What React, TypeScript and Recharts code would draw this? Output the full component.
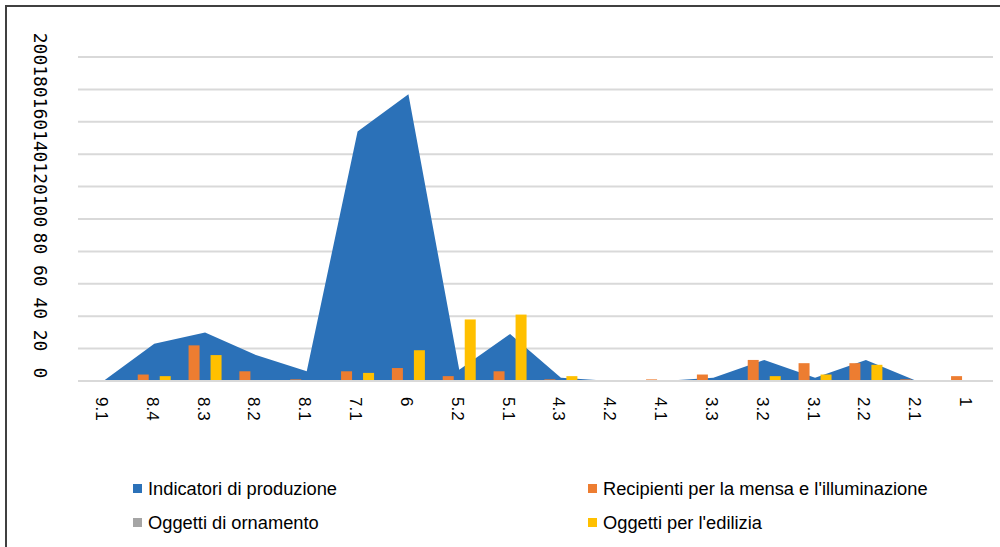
import React from "react";
import {
  ComposedChart,
  Area,
  Bar,
  XAxis,
  YAxis,
  CartesianGrid,
} from "recharts";

const categories = [
  "9.1", "8.4", "8.3", "8.2", "8.1", "7.1", "6", "5.2", "5.1",
  "4.3", "4.2", "4.1", "3.3", "3.2", "3.1", "2.2", "2.1", "1",
];

const produzione = [0, 23, 30, 16, 6, 154, 177, 7, 29, 2, 0, 0, 2, 13, 2, 13, 0, 0];
const recipienti = [0, 4, 22, 6, 1, 6, 8, 3, 6, 1, 0, 1, 4, 13, 11, 11, 1, 3];
const ornamento = [0, 0, 0, 0, 0, 0, 0, 0, 0, 0, 0, 0, 0, 0, 0, 0, 0, 0];
const edilizia = [0, 3, 16, 0, 0, 5, 19, 38, 41, 3, 0, 0, 0, 3, 4, 10, 0, 0];

const yTicks = [0, 20, 40, 60, 80, 100, 120, 140, 160, 180, 200];

const series = [
  { key: "produzione", name: "Indicatori di produzione", color: "#2B71B8" },
  { key: "recipienti", name: "Recipienti per la mensa e l'illuminazione", color: "#ED7D31" },
  { key: "ornamento", name: "Oggetti di ornamento", color: "#A5A5A5" },
  { key: "edilizia", name: "Oggetti per l'edilizia", color: "#FFC000" },
];

const data = categories.map((c, i) => ({
  cat: c,
  produzione: produzione[i],
  recipienti: recipienti[i],
  ornamento: ornamento[i],
  edilizia: edilizia[i],
}));

const XTick = (props: any) => {
  const { x, y, payload } = props;
  return (
    <text
      transform={`translate(${x - 2},${y + 8}) rotate(90)`}
      textAnchor="start"
      dominantBaseline="central"
      fontFamily="'Liberation Sans', Arial, sans-serif"
      fontSize={17}
      fill="#000"
    >
      {payload.value}
    </text>
  );
};

const YTick = (props: any) => {
  const { y, payload } = props;
  return (
    <text
      transform={`translate(33,${y - 8}) rotate(90)`}
      textAnchor="middle"
      dominantBaseline="central"
      fontFamily="'DejaVu Sans Mono', monospace"
      fontSize={18}
      fill="#000"
    >
      {payload.value}
    </text>
  );
};

export default function App() {
  const legendItem = (s: typeof series[number]) => (
    <div key={s.key} style={{ display: "flex", alignItems: "center" }}>
      <span
        style={{
          display: "inline-block",
          width: 9,
          height: 9,
          background: s.color,
          marginRight: 6,
        }}
      />
      <span>{s.name}</span>
    </div>
  );

  return (
    <div
      style={{
        position: "absolute",
        left: 5,
        top: 5,
        width: 995,
        height: 542,
        borderTop: "2px solid #404040",
        borderLeft: "2px solid #404040",
        background: "#fff",
      }}
    >
      <ComposedChart
        width={993}
        height={540}
        data={data}
        margin={{ top: 50, right: 7, left: 0, bottom: 126 }}
        barCategoryGap="17.5%"
        barGap={0}
      >
        <CartesianGrid vertical={false} stroke="#D9D9D9" strokeWidth={2} />
        <XAxis
          dataKey="cat"
          height={40}
          tickLine={false}
          axisLine={{ stroke: "#D9D9D9", strokeWidth: 2 }}
          tick={<XTick />}
          interval={0}
        />
        <YAxis
          width={71}
          domain={[0, 200]}
          ticks={yTicks}
          tickLine={false}
          axisLine={false}
          tick={<YTick />}
          interval={0}
        />
        <Area
          type="linear"
          dataKey="produzione"
          name={series[0].name}
          fill={series[0].color}
          fillOpacity={1}
          stroke="none"
          isAnimationActive={false}
        />
        <Bar dataKey="recipienti" name={series[1].name} fill={series[1].color} isAnimationActive={false} />
        <Bar dataKey="ornamento" name={series[2].name} fill={series[2].color} isAnimationActive={false} />
        <Bar dataKey="edilizia" name={series[3].name} fill={series[3].color} isAnimationActive={false} />
      </ComposedChart>
      <div
        style={{
          position: "absolute",
          left: 126,
          top: 471,
          display: "grid",
          gridTemplateColumns: "455px 400px",
          rowGap: 13,
          fontFamily: "'Liberation Sans', Arial, sans-serif",
          fontSize: 18.3,
          color: "#000",
          lineHeight: "21px",
        }}
      >
        {series.map(legendItem)}
      </div>
    </div>
  );
}
